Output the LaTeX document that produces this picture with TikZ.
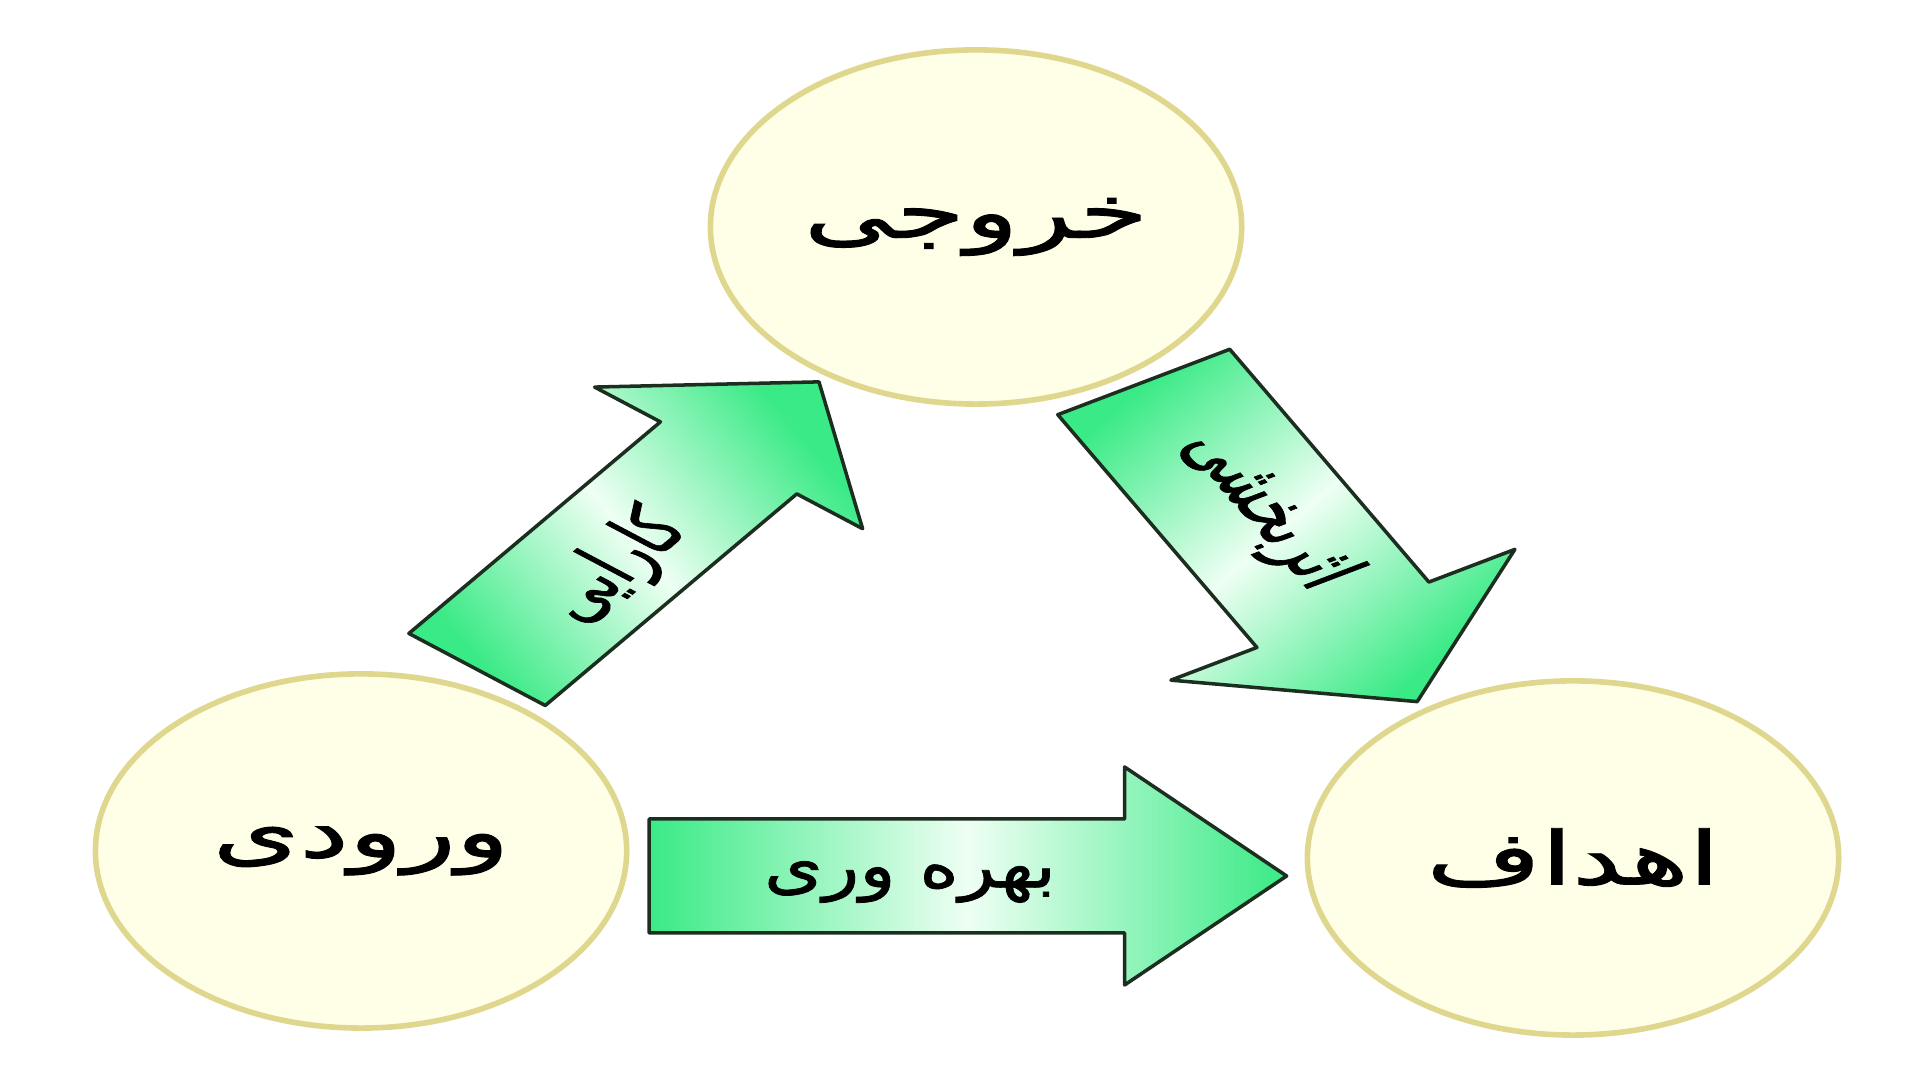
\documentclass[tikz,border=0pt]{standalone}
\usepackage{fontspec}
\newfontfamily\arabicfont[Script=Arabic, FakeBold=1.2]{DejaVu Sans}
\TeXXeTstate=1
\usetikzlibrary{positioning}

\definecolor{ringline}{HTML}{E0D78E}
\definecolor{ringfill}{HTML}{FFFFE8}
\definecolor{arrowgreen}{HTML}{3AEA86}
\definecolor{arrowmint}{HTML}{EEFFF3}
\definecolor{arrowline}{HTML}{1C2E1F}

\tikzset{
  pics/flowarrow/.style n args={5}{code={
    \path[arrowbody, shading angle=#5] (0,-#2) -- (#4,-#2) -- (#4,-#3) -- (#1,0)
      -- (#4,#3) -- (#4,#2) -- (0,#2) -- cycle;
  }}
}

\begin{document}
\begin{tikzpicture}[x=0.01cm, y=0.01cm, xscale=1.5, transform shape,
    ring/.style={circle, draw=ringline, line width=1.6pt, fill=ringfill,
      minimum size=3.54cm, font=\arabicfont\fontsize{21}{25}\selectfont},
    arrowbody/.style={draw=arrowline, line width=1pt, line join=round,
      top color=arrowgreen, bottom color=arrowgreen, middle color=arrowmint},
    arrowtext/.style={font=\arabicfont\fontsize{18}{22}\selectfont, xscale=0.72}]
  \useasboundingbox (0,0) rectangle (1280,1080);

  % circles
  \node[ring] (khoruji) at (650.7,853) {\beginR خروجی\endR};
  \node[ring] (vorudi) at (240.7,229) {\beginR ورودی\endR};
  \node[ring] (ahdaf) at (1048.7,222) {\beginR اهداف\endR};

  % arrow tails
  \coordinate (kar_tail) at (318,410.5);
  \coordinate (asar_tail) at (762.4,698);
  \coordinate (bahre_tail) at (432.7,204);

  % block arrows
  \pic[rotate=51.6] (kar) at (kar_tail) {flowarrow={367}{58}{114}{270}{-50}};
  \pic[rotate=-60.3] (asar) at (asar_tail) {flowarrow={368}{66}{132}{268}{40.6}};
  \pic (bahre) at (bahre_tail) {flowarrow={425}{57}{109}{317}{90}};

  % labels
  \node[rotate=51.6, arrowtext] (kar_lbl) at (410.7,513) {\beginR کارایی\endR};
  \node[rotate=-60.3, arrowtext] (asar_lbl) at (845.3,570) {\beginR اثربخشی\endR};
  \node[arrowtext, xscale=1.1] (bahre_lbl) at (606.7,198) {\beginR بهره وری\endR};
\end{tikzpicture}
\end{document}
